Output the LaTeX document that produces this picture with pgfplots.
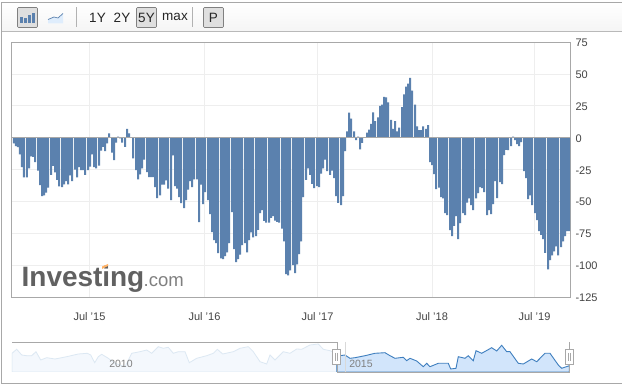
\documentclass[border=0pt]{standalone}
\usepackage{pgfplots}
\pgfplotsset{compat=1.18}
\usepackage{pgfplotstable}
\usepackage{fontspec}
\setmainfont{Liberation Sans}
\definecolor{bar}{HTML}{5B81AE}
\definecolor{frm}{HTML}{A8A8A8}
\definecolor{grd}{HTML}{EEEEEE}
\definecolor{lbl}{HTML}{444444}
\definecolor{miniL}{HTML}{F4F8FD}
\definecolor{miniD}{HTML}{D2E5FB}
\definecolor{miniLl}{HTML}{DCE8F3}
\definecolor{miniDl}{HTML}{3F7FBF}
\pgfplotstableread{
px val
13 -4.4
15 -6.5
17 -7.3
19 -13
21 -23
23 -31
26 -31
28 -24
30 -14.6
32 -15
34 -19
37 -25.6
39 -37
41 -45.7
43 -45
45 -43
47 -39
50 -29
52 -22
54 -27
56 -33
58 -38
61 -38.6
63 -36.5
65 -34
67 -36.5
69 -29.5
71 -34
74 -25
76 -31
78 -23
80 -25.3
82 -25.3
84 -29
87 -25.3
89 -22.5
91 -13
93 -23
95 -24
98 -21.7
100 -10
102 -7
104 -10.4
106 -4.4
108 3.5
111 -11.5
113 -17.5
115 -3.8
117 1
119 -0.5
121 -3.8
124 -7
126 7
128 3.5
132 -16
135 -25.3
137 -32.6
139 -28.7
141 -24
143 -17
146 -26.9
148 -30.8
150 -30.8
152 -30.8
154 -38.6
156 -47.3
159 -45
161 -36.6
163 -36.6
165 -33.4
167 -39.7
170 -48.8
172 -13.8
174 -37.9
176 -39.7
178 -46.5
180 -51.2
183 -55
185 -48.8
187 -40.5
189 -34
191 -38.6
193 -32.6
196 -32.6
198 -66
200 -36.6
202 -52
204 -42.6
207 -48.8
209 -59.8
211 -73.9
213 -80
215 -82.5
217 -90.3
220 -94.3
222 -95
224 -92.7
226 -89.6
228 -82.5
231 -58.2
233 -87.2
235 -97.4
237 -95
239 -91.4
241 -84
244 -82.5
246 -89.6
248 -80
250 -74
252 -78
255 -77
257 -72
259 -59
261 -56.7
263 -65
265 -66.3
268 -66.3
270 -62.7
272 -61.4
274 -64.8
276 -65.8
278 -66.3
281 -71
283 -81
285 -106.8
287 -107.6
289 -103.7
292 -99.7
294 -106
296 -99
298 -91
300 -81
302 -46.5
305 -33
307 -24
309 -29
311 -36
313 -39.4
316 -37.9
318 -38.6
320 -28
322 -24
324 -17
326 -26
329 -29
331 -25.6
333 -31.6
335 -45.7
337 -51
340 -52.7
342 -45.7
344 -10.4
346 5
348 19.8
350 15
353 5
355 -1.8
357 1
359 -9
361 -4
366 4
368 6.5
370 11
372 20
374 13
377 16
379 25
381 26
383 32
385 31.6
387 27.7
390 14
392 7
394 13
396 5
398 8
401 24
403 34
405 40
407 42.5
409 47
411 37
414 26
416 9
418 6
420 6
422 9
425 7
427 10
429 -19
431 -21.4
433 -28.5
435 -40.2
438 -38.9
440 -46.5
442 -47.5
444 -59
446 -60.6
449 -72.3
451 -77
453 -69
455 -61.4
457 -79.4
459 -66.8
462 -59
464 -60.6
466 -50.7
468 -47.5
470 -52.7
472 -56.7
475 -47.5
477 -43.3
479 -38.6
481 -39.4
483 -42.6
486 -60.6
488 -56.7
490 -59.8
492 -52
494 -34
496 -47.3
499 -34.7
501 -36.3
503 -13.6
505 -9.4
507 -9.7
510 -6.5
512 1
514 -1.8
516 -5
518 -6.5
520 -3.4
523 -26
525 -31.6
527 -48
529 -45
531 -52.7
534 -59
536 -64.5
538 -73
540 -76
542 -79.4
544 -90
547 -103
549 -95.8
551 -92
553 -88.8
555 -84.9
557 -92
560 -85.6
562 -81
564 -77
566 -73
568 -73
}\bars
\pgfplotstableread{
x y
12 353.3
16.7 349.3
21.7 355
26.7 355.7
31.7 355.7
36 351.7
40.7 360
46.7 357.7
55 359
66.7 356.7
78.3 354
87.3 353.3
90.7 355
94.7 362.7
98.3 356.7
101.7 354.3
108.3 358.3
115 363.3
125 366.7
131.7 353.3
140 351.7
146.7 350
151.7 353.3
158.3 346.7
163.3 348.3
168.3 347.3
173.3 353.3
178.3 351.7
185 351.7
189.3 362.7
196.7 358.3
206.7 355.7
213.3 353.3
217.3 349.3
222.7 354
233.3 351.7
240 348.3
248.3 346.7
253.3 351.7
260 361.7
266.7 364
270 355
275 360
283.3 351.7
290 353.3
296.7 349
301.7 349.3
310 345
318.3 344
323.3 349.3
330 350.7
336.7 353.3
}\miniold
\pgfplotstableread{
x y
336.7 353.3
340 355.7
345 355
350 358.3
355 357.7
365 355.7
375 353.3
385 352.7
390 355.7
395 358.3
403.3 357.3
406.7 360.7
410 358.3
416.7 361
423.3 366.7
426.7 363.3
430 366.7
438.3 363.3
448.3 363.3
450.7 369
456 368.3
458.3 356.7
465 358.3
468.3 355.7
473.3 360.7
476 350.7
481.7 353.3
491.7 347.7
496.7 351
501.7 345.3
506.7 351.7
510 351.7
518.3 363.3
523.3 364
531.7 359
536.7 361.7
545 353.3
550 353.3
558.3 365
561.7 368.3
569.3 365.7
}\mininew
\begin{document}
\begin{tikzpicture}
\path[use as bounding box,fill=white] (0,0) rectangle (622pt,-387pt);
% toolbar
\begin{scope}[x=1pt,y=-1pt]
\shade[top color=white,bottom color=gray!8] (2,3) rectangle (622,31);
\draw[frm,line width=.8pt] (622,2.5) -- (1.5,2.5) -- (1.5,383.5) -- (622,383.5);
\draw[frm!80,line width=.8pt] (1.5,31.5) -- (622,31.5);
\draw[gray,line width=.6pt,fill=gray!25,rounded corners=1pt] (17.5,7.5) rectangle (37.5,27.5);
\foreach \a/\b in {20/17.3,24/18.3,28/15,32/13.3}{\fill[bar] (\a,\b) rectangle (\a+3,23);}
\fill[miniD!70] (48,23.5) -- (48,19.5) -- (54,17) -- (58,18) -- (63,13.5) -- (63,23.5) -- cycle;
\draw[bar,line width=.7pt] (48,19.5) -- (54,17) -- (58,18) -- (63,13.5);
\draw[gray!60,line width=.7pt] (76.5,7.5) -- (76.5,27);
\draw[gray!60,line width=.7pt] (192.5,7.5) -- (192.5,27);
\draw[gray,line width=.6pt,fill=gray!25,rounded corners=1pt] (136.5,7.5) rectangle (156.5,27.5);
\draw[gray,line width=.6pt,fill=gray!25,rounded corners=1pt] (203.5,7.5) rectangle (223.5,27.5);
\node[text=black!85,font=\fontsize{13.5}{13.5}\selectfont] at (97.5,17.5) {1Y};
\node[text=black!85,font=\fontsize{13.5}{13.5}\selectfont] at (122,17.5) {2Y};
\node[text=black!85,font=\fontsize{13.5}{13.5}\selectfont] at (146.5,17.5) {5Y};
\node[text=black!85,font=\fontsize{13.5}{13.5}\selectfont] at (175,17) {max};
\node[text=black!85,font=\fontsize{13.5}{13.5}\selectfont] at (213.5,17.5) {P};
\end{scope}
\begin{axis}[
  at={(11.5pt,-297.5pt)},anchor=south west,scale only axis,
  width=559pt,height=255.5pt,
  xmin=11.5,xmax=570.5,ymin=-125,ymax=75,
  xtick={89.5,204.5,317.5,432,534.5},
  xticklabels={Jul '15,Jul '16,Jul '17,Jul '18,Jul '19},
  ytick={-125,-100,-75,-50,-25,0,25,50,75},
  yticklabels={-125,-100,-75,-50,-25,0,25,50,75},
  yticklabel pos=right,
  grid=major,
  grid style={grd,line width=.8pt},
  major tick length=0pt,
  axis line style={frm,line width=.9pt},
  tick label style={text=lbl,font=\fontsize{11}{11}\selectfont},
  yticklabel style={anchor=west,xshift=1.5pt,yshift=-.5pt},
  xticklabel style={yshift=-11pt},
  clip=true,
]
\addplot[ybar,bar width=2,bar shift=1,fill=bar,draw=none] table[x=px,y=val] {\bars};
\addplot[frm,line width=.9pt,forget plot] coordinates {(11.5,0)(570.5,0)};
\end{axis}
\begin{scope}[x=1pt,y=-1pt]
\node[anchor=base west,inner sep=0pt,text=black!62,font=\fontsize{28}{28}\selectfont\bfseries] (inv) at (21.5,286.5) {\addfontfeature{LetterSpace=-0.2}Investing};
\node[anchor=base west,inner sep=0pt,text=black!50,font=\fontsize{18.5}{18.5}\selectfont] at (143.5,286.5) {.com};
\fill[orange!60] (102,269) -- (108,266) -- (108,264) -- (102,266.5) -- cycle;
\end{scope}
\begin{axis}[
  at={(12pt,-372pt)},anchor=south west,scale only axis,
  width=558pt,height=30pt,
  xmin=12,xmax=570,ymin=342,ymax=372,y dir=reverse,
  hide axis,clip=true,
]
\addplot[draw=miniLl,line width=.8pt,fill=miniL] table[x=x,y=y] {\miniold} -- (axis cs:336.7,372) -- (axis cs:12,372) -- cycle;
\addplot[draw=miniDl,line width=.9pt,fill=miniD] table[x=x,y=y] {\mininew} -- (axis cs:569.3,372) -- (axis cs:336.7,372) -- cycle;
\end{axis}
\begin{scope}[x=1pt,y=-1pt]
\draw[frm,line width=.7pt] (12,342.5) -- (337,342.5) -- (337,372.5) -- (569.5,372.5) -- (569.5,342);
\draw[gray!30,line width=.5pt] (345.5,342) -- (345.5,372);
\node[text=gray,font=\fontsize{10.5}{10.5}\selectfont] at (121,364) {2010};
\node[text=gray,font=\fontsize{10.5}{10.5}\selectfont] at (361,364) {2015};
\foreach \h in {336.5,569.5}{
  \draw[frm,fill=white,line width=.6pt] (\h-4,349.5) rectangle (\h+4,364.5);
  \draw[frm,line width=.5pt] (\h-1.2,353) -- (\h-1.2,361) (\h+1.2,353) -- (\h+1.2,361);
}
\end{scope}
\end{tikzpicture}
\end{document}
